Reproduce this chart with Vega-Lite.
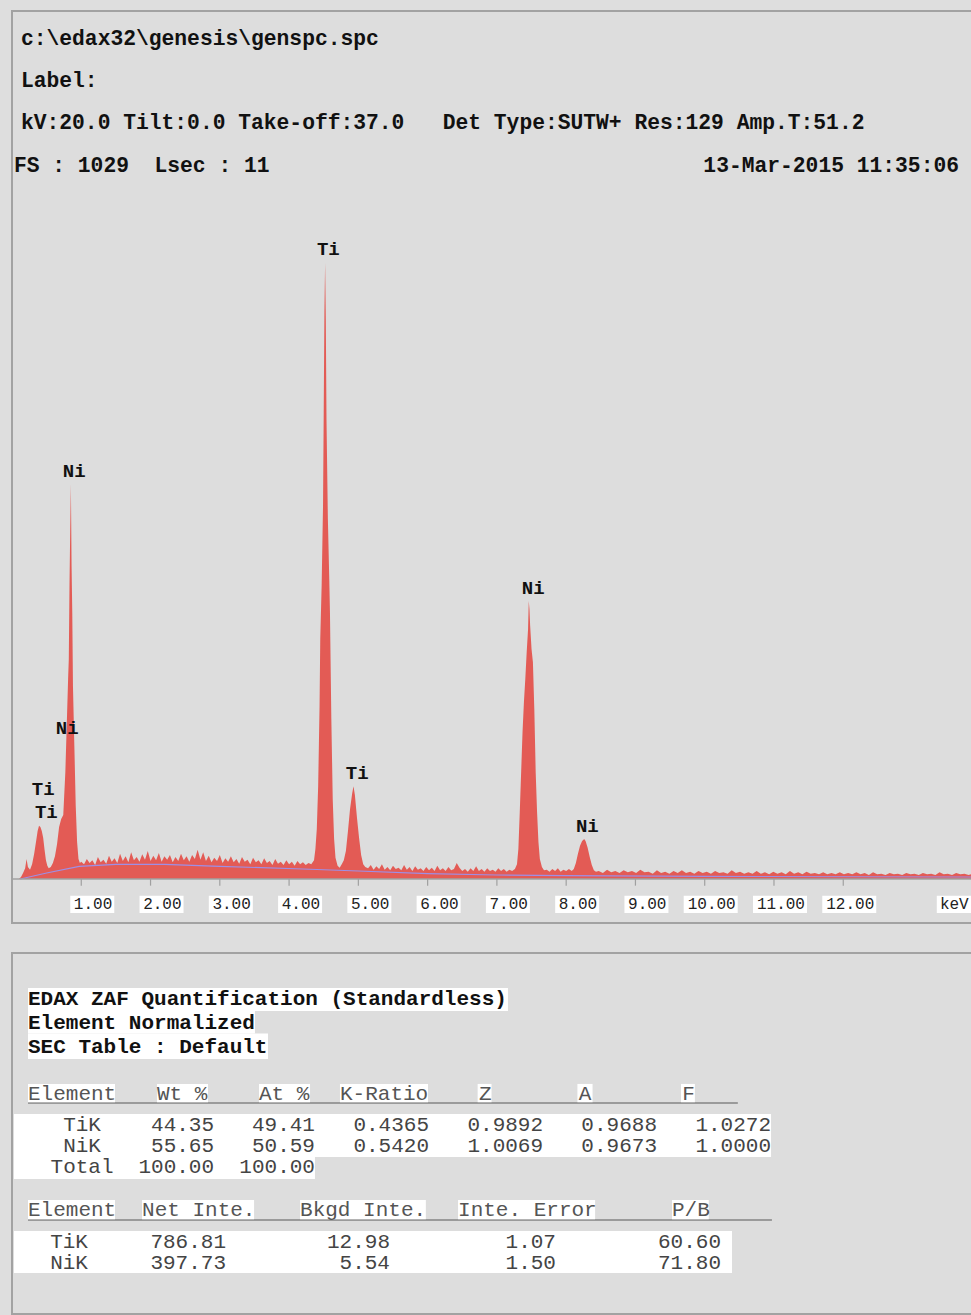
{
"$schema": "https://vega.github.io/schema/vega-lite/v6.json",
"background": "#dedede",
"padding": {"left": 10, "top": 10, "right": 0, "bottom": 0},
"spacing": 30,
"bounds": "flush",
"config": {"view": {"stroke": "#a2a2a2", "strokeWidth": 2, "fill": "#dddddd"}, "scale": {"continuousPadding": 0}},
"datasets": {
"spectrum": [
{"keV":0,"cts":0},{"keV":0.1,"cts":0},{"keV":0.13,"cts":3},{"keV":0.16,"cts":9},{"keV":0.19,"cts":16},{"keV":0.21,"cts":30},{"keV":0.23,"cts":18},{"keV":0.26,"cts":14},{"keV":0.29,"cts":22},{"keV":0.32,"cts":38},{"keV":0.35,"cts":58},{"keV":0.37,"cts":72},{"keV":0.39,"cts":80},{"keV":0.41,"cts":78},{"keV":0.43,"cts":72},{"keV":0.45,"cts":62},{"keV":0.47,"cts":44},{"keV":0.49,"cts":28},{"keV":0.51,"cts":20},{"keV":0.53,"cts":16},{"keV":0.56,"cts":18},{"keV":0.59,"cts":24},{"keV":0.62,"cts":34},{"keV":0.65,"cts":52},{"keV":0.68,"cts":78},{"keV":0.71,"cts":90},{"keV":0.74,"cts":96},{"keV":0.77,"cts":160},{"keV":0.79,"cts":230},{"keV":0.81,"cts":300},{"keV":0.82,"cts":330},{"keV":0.83,"cts":440},{"keV":0.84,"cts":520},{"keV":0.85,"cts":592},{"keV":0.86,"cts":470},{"keV":0.87,"cts":400},{"keV":0.88,"cts":290},{"keV":0.9,"cts":200},{"keV":0.92,"cts":110},{"keV":0.94,"cts":55},{"keV":0.96,"cts":30},{"keV":0.98,"cts":24},
{"keV":1.0,"cts":26},{"keV":1.04,"cts":22},{"keV":1.08,"cts":30},{"keV":1.12,"cts":24},{"keV":1.16,"cts":28},{"keV":1.2,"cts":21},{"keV":1.24,"cts":33},{"keV":1.28,"cts":25},{"keV":1.32,"cts":29},{"keV":1.36,"cts":23},{"keV":1.4,"cts":35},{"keV":1.44,"cts":26},{"keV":1.48,"cts":31},{"keV":1.52,"cts":24},{"keV":1.56,"cts":38},{"keV":1.6,"cts":27},{"keV":1.64,"cts":34},{"keV":1.68,"cts":25},{"keV":1.72,"cts":40},{"keV":1.76,"cts":28},{"keV":1.8,"cts":33},{"keV":1.84,"cts":26},{"keV":1.88,"cts":37},{"keV":1.92,"cts":29},{"keV":1.96,"cts":42},{"keV":2.0,"cts":27},{"keV":2.04,"cts":35},{"keV":2.08,"cts":28},{"keV":2.12,"cts":39},{"keV":2.16,"cts":26},{"keV":2.2,"cts":34},{"keV":2.24,"cts":29},{"keV":2.28,"cts":36},{"keV":2.32,"cts":25},{"keV":2.36,"cts":33},{"keV":2.4,"cts":27},{"keV":2.44,"cts":38},{"keV":2.48,"cts":28},{"keV":2.52,"cts":34},{"keV":2.56,"cts":26},{"keV":2.6,"cts":36},{"keV":2.64,"cts":30},{"keV":2.68,"cts":44},{"keV":2.72,"cts":29},{"keV":2.76,"cts":40},{"keV":2.8,"cts":27},{"keV":2.84,"cts":35},{"keV":2.88,"cts":25},{"keV":2.92,"cts":32},{"keV":2.96,"cts":27},{"keV":3.0,"cts":36},{"keV":3.04,"cts":24},{"keV":3.08,"cts":31},{"keV":3.12,"cts":26},{"keV":3.16,"cts":34},{"keV":3.2,"cts":25},{"keV":3.24,"cts":30},{"keV":3.28,"cts":23},{"keV":3.32,"cts":33},{"keV":3.36,"cts":26},{"keV":3.4,"cts":29},{"keV":3.44,"cts":22},{"keV":3.48,"cts":32},{"keV":3.52,"cts":25},{"keV":3.56,"cts":28},{"keV":3.6,"cts":22},{"keV":3.64,"cts":31},{"keV":3.68,"cts":24},{"keV":3.72,"cts":27},{"keV":3.76,"cts":21},{"keV":3.8,"cts":30},{"keV":3.84,"cts":23},{"keV":3.88,"cts":26},{"keV":3.92,"cts":21},{"keV":3.96,"cts":28},{"keV":4.0,"cts":22},{"keV":4.04,"cts":26},{"keV":4.08,"cts":20},{"keV":4.12,"cts":27},{"keV":4.16,"cts":22},{"keV":4.2,"cts":25},{"keV":4.24,"cts":21},{"keV":4.28,"cts":24},{"keV":4.32,"cts":22},
{"keV":4.36,"cts":28},{"keV":4.38,"cts":45},{"keV":4.4,"cts":75},{"keV":4.42,"cts":140},{"keV":4.43,"cts":200},{"keV":4.44,"cts":260},{"keV":4.45,"cts":360},{"keV":4.47,"cts":440},{"keV":4.49,"cts":560},{"keV":4.5,"cts":700},{"keV":4.51,"cts":850},{"keV":4.52,"cts":924},{"keV":4.53,"cts":840},{"keV":4.54,"cts":690},{"keV":4.56,"cts":540},{"keV":4.58,"cts":450},{"keV":4.59,"cts":400},{"keV":4.61,"cts":240},{"keV":4.63,"cts":120},{"keV":4.65,"cts":60},{"keV":4.67,"cts":32},{"keV":4.7,"cts":20},{"keV":4.73,"cts":17},{"keV":4.76,"cts":22},{"keV":4.79,"cts":28},{"keV":4.82,"cts":42},{"keV":4.85,"cts":72},{"keV":4.88,"cts":105},{"keV":4.91,"cts":128},{"keV":4.93,"cts":139},{"keV":4.95,"cts":126},{"keV":4.98,"cts":92},{"keV":5.01,"cts":62},{"keV":5.04,"cts":36},{"keV":5.07,"cts":22},{"keV":5.1,"cts":18},
{"keV":5.14,"cts":16},{"keV":5.18,"cts":21},{"keV":5.22,"cts":14},{"keV":5.26,"cts":19},{"keV":5.3,"cts":15},{"keV":5.34,"cts":22},{"keV":5.38,"cts":14},{"keV":5.42,"cts":18},{"keV":5.46,"cts":13},{"keV":5.5,"cts":20},{"keV":5.54,"cts":15},{"keV":5.58,"cts":17},{"keV":5.62,"cts":13},{"keV":5.66,"cts":21},{"keV":5.7,"cts":14},{"keV":5.74,"cts":18},{"keV":5.78,"cts":12},{"keV":5.82,"cts":19},{"keV":5.86,"cts":14},{"keV":5.9,"cts":16},{"keV":5.94,"cts":12},{"keV":5.98,"cts":18},{"keV":6.02,"cts":13},{"keV":6.06,"cts":17},{"keV":6.1,"cts":12},{"keV":6.14,"cts":20},{"keV":6.18,"cts":13},{"keV":6.22,"cts":16},{"keV":6.26,"cts":12},{"keV":6.3,"cts":18},{"keV":6.34,"cts":13},{"keV":6.38,"cts":15},{"keV":6.42,"cts":24},{"keV":6.46,"cts":17},{"keV":6.5,"cts":12},{"keV":6.54,"cts":15},{"keV":6.58,"cts":11},{"keV":6.62,"cts":16},{"keV":6.66,"cts":12},{"keV":6.7,"cts":19},{"keV":6.74,"cts":12},{"keV":6.78,"cts":15},{"keV":6.82,"cts":11},{"keV":6.86,"cts":16},{"keV":6.9,"cts":12},{"keV":6.94,"cts":14},{"keV":6.98,"cts":11},{"keV":7.02,"cts":16},{"keV":7.06,"cts":12},{"keV":7.1,"cts":15},{"keV":7.14,"cts":11},{"keV":7.18,"cts":14},{"keV":7.22,"cts":12},
{"keV":7.26,"cts":15},{"keV":7.29,"cts":22},{"keV":7.31,"cts":45},{"keV":7.33,"cts":100},{"keV":7.35,"cts":160},{"keV":7.37,"cts":220},{"keV":7.39,"cts":265},{"keV":7.41,"cts":300},{"keV":7.43,"cts":340},{"keV":7.45,"cts":375},{"keV":7.46,"cts":417},{"keV":7.47,"cts":405},{"keV":7.48,"cts":380},{"keV":7.5,"cts":345},{"keV":7.52,"cts":325},{"keV":7.54,"cts":255},{"keV":7.56,"cts":160},{"keV":7.58,"cts":100},{"keV":7.6,"cts":55},{"keV":7.62,"cts":30},{"keV":7.65,"cts":18},{"keV":7.68,"cts":13},
{"keV":7.72,"cts":14},{"keV":7.76,"cts":11},{"keV":7.8,"cts":15},{"keV":7.84,"cts":12},{"keV":7.88,"cts":16},{"keV":7.92,"cts":11},{"keV":7.96,"cts":14},{"keV":8.0,"cts":12},{"keV":8.04,"cts":15},{"keV":8.08,"cts":12},
{"keV":8.11,"cts":15},{"keV":8.14,"cts":24},{"keV":8.17,"cts":38},{"keV":8.2,"cts":50},{"keV":8.23,"cts":57},{"keV":8.26,"cts":60},{"keV":8.28,"cts":57},{"keV":8.31,"cts":47},{"keV":8.34,"cts":33},{"keV":8.37,"cts":21},{"keV":8.4,"cts":13},{"keV":8.43,"cts":11},
{"keV":8.47,"cts":12},{"keV":8.53,"cts":9},{"keV":8.59,"cts":14},{"keV":8.65,"cts":10},{"keV":8.71,"cts":12},{"keV":8.77,"cts":9},{"keV":8.83,"cts":13},{"keV":8.89,"cts":10},{"keV":8.95,"cts":12},{"keV":9.01,"cts":9},{"keV":9.07,"cts":14},{"keV":9.13,"cts":10},{"keV":9.19,"cts":11},{"keV":9.25,"cts":8},{"keV":9.31,"cts":13},{"keV":9.37,"cts":9},{"keV":9.43,"cts":11},{"keV":9.49,"cts":8},{"keV":9.55,"cts":12},{"keV":9.61,"cts":9},{"keV":9.67,"cts":13},{"keV":9.73,"cts":9},{"keV":9.79,"cts":11},{"keV":9.85,"cts":8},{"keV":9.91,"cts":12},{"keV":9.97,"cts":9},{"keV":10.03,"cts":11},{"keV":10.09,"cts":8},{"keV":10.15,"cts":12},{"keV":10.21,"cts":9},{"keV":10.27,"cts":10},{"keV":10.33,"cts":8},{"keV":10.39,"cts":13},{"keV":10.45,"cts":9},{"keV":10.51,"cts":11},{"keV":10.57,"cts":8},{"keV":10.63,"cts":10},{"keV":10.69,"cts":8},{"keV":10.75,"cts":12},{"keV":10.81,"cts":8},{"keV":10.87,"cts":10},{"keV":10.93,"cts":7},{"keV":10.99,"cts":11},{"keV":11.05,"cts":8},{"keV":11.11,"cts":10},{"keV":11.17,"cts":7},{"keV":11.23,"cts":12},{"keV":11.29,"cts":8},{"keV":11.35,"cts":10},{"keV":11.41,"cts":7},{"keV":11.47,"cts":11},{"keV":11.53,"cts":8},{"keV":11.59,"cts":9},{"keV":11.65,"cts":7},{"keV":11.71,"cts":10},{"keV":11.77,"cts":7},{"keV":11.83,"cts":9},{"keV":11.89,"cts":7},{"keV":11.95,"cts":10},{"keV":12.01,"cts":7},{"keV":12.07,"cts":9},{"keV":12.13,"cts":7},{"keV":12.19,"cts":10},{"keV":12.25,"cts":7},{"keV":12.31,"cts":9},{"keV":12.37,"cts":6},{"keV":12.43,"cts":10},{"keV":12.49,"cts":7},{"keV":12.55,"cts":8},{"keV":12.61,"cts":6},{"keV":12.67,"cts":9},{"keV":12.73,"cts":7},{"keV":12.79,"cts":8},{"keV":12.85,"cts":6},{"keV":12.91,"cts":9},{"keV":12.97,"cts":7},{"keV":13.03,"cts":8},{"keV":13.09,"cts":6},{"keV":13.15,"cts":9},{"keV":13.21,"cts":7},{"keV":13.27,"cts":8},{"keV":13.33,"cts":6},{"keV":13.39,"cts":10},{"keV":13.45,"cts":7},{"keV":13.51,"cts":8},{"keV":13.57,"cts":6},{"keV":13.63,"cts":9},{"keV":13.69,"cts":7},{"keV":13.75,"cts":8},{"keV":13.81,"cts":6},{"keV":13.873,"cts":8}
],
"bgfit": [
{"keV":0.12,"cts":0},{"keV":0.5,"cts":9},{"keV":0.97,"cts":19},{"keV":1.5,"cts":22},{"keV":2.2,"cts":22},{"keV":3.0,"cts":19},{"keV":4.2,"cts":15},{"keV":5.0,"cts":12},{"keV":6.0,"cts":8},{"keV":7.0,"cts":6},{"keV":8.0,"cts":5},{"keV":10.0,"cts":4},{"keV":13.873,"cts":3}
],
"peaks": [
{"element":"Ti","keV":4.566,"cts":945},{"element":"Ti","keV":4.984,"cts":159},{"element":"Ni","keV":7.525,"cts":436},{"element":"Ni","keV":8.305,"cts":80},{"element":"Ni","keV":0.899,"cts":612},{"element":"Ni","keV":0.798,"cts":226},{"element":"Ti","keV":0.451,"cts":135},{"element":"Ti","keV":0.495,"cts":100}
],
"ticks": [
{"keV":1,"label":"1.00"},{"keV":2,"label":"2.00"},{"keV":3,"label":"3.00"},{"keV":4,"label":"4.00"},{"keV":5,"label":"5.00"},{"keV":6,"label":"6.00"},{"keV":7,"label":"7.00"},{"keV":8,"label":"8.00"},{"keV":9,"label":"9.00"},{"keV":10,"label":"10.00"},{"keV":11,"label":"11.00"},{"keV":12,"label":"12.00"}
],
"header": [
{"line":1,"col":0,"text":"c:\\edax32\\genesis\\genspc.spc"},
{"line":2,"col":0,"text":"Label:"},
{"line":3,"col":0,"text":"kV:20.0 Tilt:0.0 Take-off:37.0\u00a0\u00a0\u00a0Det Type:SUTW+ Res:129 Amp.T:51.2"},
{"line":4,"col":-0.55,"text":"FS : 1029\u00a0\u00a0Lsec : 11"}
],
"headerRight": [
{"line":4,"col":73.28,"text":"13-Mar-2015 11:35:06"}
],
"boxes": [
{"c1":0,"c2":38.0,"r1":-0.51,"r2":0.56},
{"c1":0,"c2":17.97,"r1":0.56,"r2":1.6},
{"c1":0,"c2":19.0,"r1":1.6,"r2":2.79},
{"c1":0,"c2":6.89,"r1":3.95,"r2":4.8},
{"c1":10.21,"c2":14.25,"r1":3.95,"r2":4.8},
{"c1":18.29,"c2":22.33,"r1":3.95,"r2":4.8},
{"c1":24.7,"c2":31.67,"r1":3.95,"r2":4.8},
{"c1":35.6,"c2":36.7,"r1":3.95,"r2":4.8},
{"c1":43.5,"c2":44.7,"r1":3.95,"r2":4.8},
{"c1":51.7,"c2":52.8,"r1":3.95,"r2":4.8},
{"c1":-1.11,"c2":58.83,"r1":5.35,"r2":7.35},
{"c1":-1.11,"c2":22.72,"r1":7.35,"r2":8.37},
{"c1":0,"c2":6.89,"r1":9.35,"r2":10.24},
{"c1":9.03,"c2":17.9,"r1":9.35,"r2":10.24},
{"c1":21.54,"c2":31.5,"r1":9.35,"r2":10.24},
{"c1":34.05,"c2":44.9,"r1":9.35,"r2":10.24},
{"c1":50.99,"c2":53.9,"r1":9.35,"r2":10.24},
{"c1":-1.11,"c2":55.74,"r1":10.79,"r2":12.74}
],
"underlines": [
{"c1":0,"c2":56.2,"r":4.84},
{"c1":0,"c2":58.9,"r":10.28}
],
"titles": [
{"r":0,"c":0,"text":"EDAX ZAF Quantification (Standardless)"},
{"r":1.12,"c":0,"text":"Element Normalized"},
{"r":2.23,"c":0,"text":"SEC Table : Default"}
],
"colHeads": [
{"r":4.42,"c":0,"text":"Element"},{"r":4.42,"c":10.21,"text":"Wt %"},{"r":4.42,"c":18.29,"text":"At %"},{"r":4.42,"c":24.7,"text":"K-Ratio"},{"r":4.42,"c":35.7,"text":"Z"},{"r":4.42,"c":43.6,"text":"A"},{"r":4.42,"c":51.8,"text":"F"},
{"r":9.81,"c":0,"text":"Element"},{"r":9.81,"c":9.03,"text":"Net Inte."},{"r":9.81,"c":21.54,"text":"Bkgd Inte."},{"r":9.81,"c":34.05,"text":"Inte. Error"},{"r":9.81,"c":50.99,"text":"P/B"}
],
"names": [
{"r":5.86,"c":4.28,"text":"TiK"},{"r":6.84,"c":4.28,"text":"NiK"},{"r":7.81,"c":4.28,"text":"Total"},
{"r":11.3,"c":3.25,"text":"TiK"},{"r":12.28,"c":3.25,"text":"NiK"}
],
"values": [
{"r":5.86,"c":14.73,"text":"44.35"},{"r":5.86,"c":22.72,"text":"49.41"},{"r":5.86,"c":31.75,"text":"0.4365"},{"r":5.86,"c":40.78,"text":"0.9892"},{"r":5.86,"c":49.8,"text":"0.9688"},{"r":5.86,"c":58.83,"text":"1.0272"},
{"r":6.84,"c":14.73,"text":"55.65"},{"r":6.84,"c":22.72,"text":"50.59"},{"r":6.84,"c":31.75,"text":"0.5420"},{"r":6.84,"c":40.78,"text":"1.0069"},{"r":6.84,"c":49.8,"text":"0.9673"},{"r":6.84,"c":58.83,"text":"1.0000"},
{"r":7.81,"c":14.73,"text":"100.00"},{"r":7.81,"c":22.72,"text":"100.00"},
{"r":11.3,"c":15.68,"text":"786.81"},{"r":11.3,"c":28.66,"text":"12.98"},{"r":11.3,"c":41.8,"text":"1.07"},{"r":11.3,"c":54.87,"text":"60.60"},
{"r":12.28,"c":15.68,"text":"397.73"},{"r":12.28,"c":28.66,"text":"5.54"},{"r":12.28,"c":41.8,"text":"1.50"},{"r":12.28,"c":54.87,"text":"71.80"}
]
},
"vconcat": [
{
"width": 961, "height": 912,
"resolve": {"scale": {"x": "independent", "y": "independent"}},
"layer": [
{
"layer": [
{"data": {"name": "spectrum"}, "mark": {"type": "area", "color": "#e35b55", "interpolate": "linear"},
 "encoding": {"x": {"field": "keV", "type": "quantitative", "scale": {"domain": [0, 13.873], "nice": false, "zero": false, "padding": 0}, "axis": null},
  "y": {"field": "cts", "type": "quantitative", "scale": {"domain": [-66, 1302], "nice": false, "zero": false, "padding": 0}, "axis": null},
  "y2": {"datum": 0}}},
{"data": {"name": "bgfit"}, "mark": {"type": "line", "color": "#9d8fe6", "strokeWidth": 1.2},
 "encoding": {"x": {"field": "keV", "type": "quantitative", "scale": {"domain": [0, 13.873], "nice": false, "zero": false, "padding": 0}, "axis": null},
  "y": {"field": "cts", "type": "quantitative", "scale": {"domain": [-66, 1302], "nice": false, "zero": false, "padding": 0}, "axis": null}}},
{"data": {"values": [{"baseline": 0}]}, "mark": {"type": "rule", "color": "#a0a0a0", "strokeWidth": 1.5},
 "encoding": {"y": {"field": "baseline", "type": "quantitative", "scale": {"domain": [-66, 1302], "nice": false, "zero": false, "padding": 0}, "axis": null}}},
{"data": {"name": "ticks"}, "mark": {"type": "rule", "color": "#a0a0a0", "strokeWidth": 1.2},
 "encoding": {"x": {"field": "keV", "type": "quantitative", "scale": {"domain": [0, 13.873], "nice": false, "zero": false, "padding": 0}, "axis": null},
  "y": {"datum": 0, "type": "quantitative", "scale": {"domain": [-66, 1302], "nice": false, "zero": false, "padding": 0}, "axis": null},
  "y2": {"datum": -10}}},
{"data": {"name": "ticks"}, "transform": [{"filter": "datum.keV < 10"}], "mark": {"type": "bar", "color": "white", "width": 44, "xOffset": 11},
 "encoding": {"x": {"field": "keV", "type": "quantitative", "scale": {"domain": [0, 13.873], "nice": false, "zero": false, "padding": 0}, "axis": null},
  "y": {"datum": -25, "type": "quantitative", "scale": {"domain": [-66, 1302], "nice": false, "zero": false, "padding": 0}, "axis": null},
  "y2": {"datum": -51}}},
{"data": {"name": "ticks"}, "transform": [{"filter": "datum.keV >= 10"}], "mark": {"type": "bar", "color": "white", "width": 54, "xOffset": 6},
 "encoding": {"x": {"field": "keV", "type": "quantitative", "scale": {"domain": [0, 13.873], "nice": false, "zero": false, "padding": 0}, "axis": null},
  "y": {"datum": -25, "type": "quantitative", "scale": {"domain": [-66, 1302], "nice": false, "zero": false, "padding": 0}, "axis": null},
  "y2": {"datum": -51}}},
{"data": {"name": "ticks"}, "mark": {"type": "text", "align": "right", "baseline": "middle", "dx": 31, "font": "Liberation Mono", "fontSize": 16, "color": "#222222"},
 "encoding": {"x": {"field": "keV", "type": "quantitative", "scale": {"domain": [0, 13.873], "nice": false, "zero": false, "padding": 0}, "axis": null},
  "y": {"datum": -38, "type": "quantitative", "scale": {"domain": [-66, 1302], "nice": false, "zero": false, "padding": 0}, "axis": null},
  "text": {"field": "label"}}},
{"data": {"values": [{"unit": "keV", "keV": 13.603}]}, "mark": {"type": "bar", "color": "white", "width": 35},
 "encoding": {"x": {"field": "keV", "type": "quantitative", "scale": {"domain": [0, 13.873], "nice": false, "zero": false, "padding": 0}, "axis": null},
  "y": {"datum": -25, "type": "quantitative", "scale": {"domain": [-66, 1302], "nice": false, "zero": false, "padding": 0}, "axis": null},
  "y2": {"datum": -51}}},
{"data": {"values": [{"unit": "keV", "keV": 13.603}]}, "mark": {"type": "text", "align": "center", "baseline": "middle", "font": "Liberation Mono", "fontSize": 16, "color": "#222222"},
 "encoding": {"x": {"field": "keV", "type": "quantitative", "scale": {"domain": [0, 13.873], "nice": false, "zero": false, "padding": 0}, "axis": null},
  "y": {"datum": -38, "type": "quantitative", "scale": {"domain": [-66, 1302], "nice": false, "zero": false, "padding": 0}, "axis": null},
  "text": {"field": "unit"}}},
{"data": {"name": "peaks"}, "mark": {"type": "text", "align": "center", "baseline": "middle", "font": "Liberation Mono", "fontWeight": "bold", "fontSize": 19, "color": "#111111"},
 "encoding": {"x": {"field": "keV", "type": "quantitative", "scale": {"domain": [0, 13.873], "nice": false, "zero": false, "padding": 0}, "axis": null},
  "y": {"field": "cts", "type": "quantitative", "scale": {"domain": [-66, 1302], "nice": false, "zero": false, "padding": 0}, "axis": null},
  "text": {"field": "element"}}}
]
},
{
"layer": [
{"data": {"name": "header"}, "mark": {"type": "text", "align": "left", "baseline": "middle", "font": "Liberation Mono", "fontWeight": "bold", "fontSize": 21.3, "color": "#111111"},
 "encoding": {"x": {"field": "col", "type": "quantitative", "scale": {"domain": [-0.7, 74.375], "nice": false, "zero": false}, "axis": null},
  "y": {"field": "line", "type": "quantitative", "scale": {"domain": [0.343, 21.9], "nice": false, "zero": false, "reverse": true}, "axis": null},
  "text": {"field": "text"}}},
{"data": {"name": "headerRight"}, "mark": {"type": "text", "align": "right", "baseline": "middle", "font": "Liberation Mono", "fontWeight": "bold", "fontSize": 21.3, "color": "#111111"},
 "encoding": {"x": {"field": "col", "type": "quantitative", "scale": {"domain": [-0.7, 74.375], "nice": false, "zero": false}, "axis": null},
  "y": {"field": "line", "type": "quantitative", "scale": {"domain": [0.343, 21.9], "nice": false, "zero": false, "reverse": true}, "axis": null},
  "text": {"field": "text"}}}
]
}
]
},
{
"width": 961, "height": 361,
"layer": [
{"data": {"name": "underlines"}, "mark": {"type": "rule", "color": "#9a9a9a", "strokeWidth": 2},
 "encoding": {"x": {"field": "c1", "type": "quantitative", "scale": {"domain": [-1.267, 74.82], "nice": false, "zero": false, "padding": 0}, "axis": null},
  "x2": {"field": "c2"},
  "y": {"field": "r", "type": "quantitative", "scale": {"domain": [-2.14, 14.65], "nice": false, "zero": false, "reverse": true, "padding": 0}, "axis": null}}},
{"data": {"name": "boxes"}, "mark": {"type": "rect", "color": "white"},
 "encoding": {"x": {"field": "c1", "type": "quantitative", "scale": {"domain": [-1.267, 74.82], "nice": false, "zero": false, "padding": 0}, "axis": null},
  "x2": {"field": "c2"},
  "y": {"field": "r1", "type": "quantitative", "scale": {"domain": [-2.14, 14.65], "nice": false, "zero": false, "reverse": true, "padding": 0}, "axis": null},
  "y2": {"field": "r2"}}},
{"data": {"name": "titles"}, "mark": {"type": "text", "align": "left", "baseline": "middle", "font": "Liberation Mono", "fontWeight": "bold", "fontSize": 21, "color": "#111111"},
 "encoding": {"x": {"field": "c", "type": "quantitative", "scale": {"domain": [-1.267, 74.82], "nice": false, "zero": false, "padding": 0}, "axis": null},
  "y": {"field": "r", "type": "quantitative", "scale": {"domain": [-2.14, 14.65], "nice": false, "zero": false, "reverse": true, "padding": 0}, "axis": null},
  "text": {"field": "text"}}},
{"data": {"name": "colHeads"}, "mark": {"type": "text", "align": "left", "baseline": "middle", "font": "Liberation Mono", "fontSize": 21, "color": "#555555"},
 "encoding": {"x": {"field": "c", "type": "quantitative", "scale": {"domain": [-1.267, 74.82], "nice": false, "zero": false, "padding": 0}, "axis": null},
  "y": {"field": "r", "type": "quantitative", "scale": {"domain": [-2.14, 14.65], "nice": false, "zero": false, "reverse": true, "padding": 0}, "axis": null},
  "text": {"field": "text"}}},
{"data": {"name": "names"}, "mark": {"type": "text", "align": "center", "baseline": "middle", "font": "Liberation Mono", "fontSize": 21, "color": "#444444"},
 "encoding": {"x": {"field": "c", "type": "quantitative", "scale": {"domain": [-1.267, 74.82], "nice": false, "zero": false, "padding": 0}, "axis": null},
  "y": {"field": "r", "type": "quantitative", "scale": {"domain": [-2.14, 14.65], "nice": false, "zero": false, "reverse": true, "padding": 0}, "axis": null},
  "text": {"field": "text"}}},
{"data": {"name": "values"}, "mark": {"type": "text", "align": "right", "baseline": "middle", "font": "Liberation Mono", "fontSize": 21, "color": "#444444"},
 "encoding": {"x": {"field": "c", "type": "quantitative", "scale": {"domain": [-1.267, 74.82], "nice": false, "zero": false, "padding": 0}, "axis": null},
  "y": {"field": "r", "type": "quantitative", "scale": {"domain": [-2.14, 14.65], "nice": false, "zero": false, "reverse": true, "padding": 0}, "axis": null},
  "text": {"field": "text"}}}
]
}
]
}
